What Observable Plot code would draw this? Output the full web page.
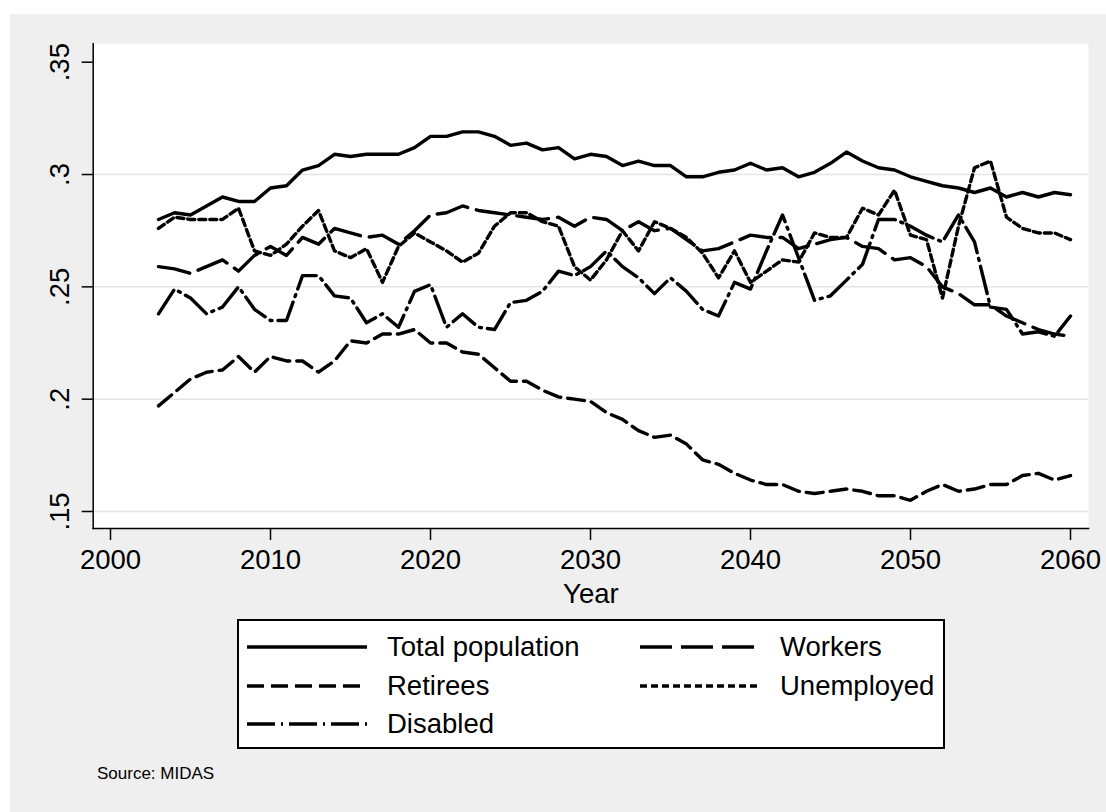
<!DOCTYPE html>
<html>
<head>
<meta charset="utf-8">
<script src="https://cdn.jsdelivr.net/npm/d3@7"></script>
<script src="https://cdn.jsdelivr.net/npm/@observablehq/plot@0.6"></script>
<style>
  body { margin: 0; background: #fff; font-family: "Liberation Sans", Arial, sans-serif; }
  #graph { position: absolute; left: 10px; top: 14px; width: 1096px; height: 798px; background: #efefef; overflow: hidden; }
  #chart { position: absolute; left: 0; top: 0; }
  #legend { position: absolute; left: 227px; top: 605px; width: 704px; height: 126px; background: #fff; border: 2px solid #000; }
  .item { position: absolute; height: 32px; display: flex; align-items: center; font-size: 27.5px; color: #000; white-space: nowrap; }
  .item svg { margin-right: 20px; }
  #note { position: absolute; left: 87px; top: 750px; font-size: 17px; color: #000; }
</style>
</head>
<body>
<div id="graph">
  <div id="chart"></div>
  <div id="legend"></div>
  <div id="note">Source: MIDAS</div>
</div>
<script>
// values, one per year 2003-2060
const years = [2003, 2004, 2005, 2006, 2007, 2008, 2009, 2010, 2011, 2012,
  2013, 2014, 2015, 2016, 2017, 2018, 2019, 2020, 2021, 2022,
  2023, 2024, 2025, 2026, 2027, 2028, 2029, 2030, 2031, 2032,
  2033, 2034, 2035, 2036, 2037, 2038, 2039, 2040, 2041, 2042,
  2043, 2044, 2045, 2046, 2047, 2048, 2049, 2050, 2051, 2052,
  2053, 2054, 2055, 2056, 2057, 2058, 2059, 2060]

const total = [.280, .283, .282, .286, .290, .288, .288, .294, .295, .302,
  .304, .309, .308, .309, .309, .309, .312, .317, .317, .319,
  .319, .317, .313, .314, .311, .312, .307, .309, .308, .304,
  .306, .304, .304, .299, .299, .301, .302, .305, .302, .303,
  .299, .301, .305, .310, .306, .303, .302, .299, .297, .295,
  .294, .292, .294, .290, .292, .290, .292, .291]

const workers = [.259, .258, .256, .259, .262, .257, .264, .268, .264, .272,
  .269, .276, .274, .272, .273, .269, .275, .282, .283, .286,
  .284, .283, .282, .281, .280, .281, .277, .281, .280, .275,
  .279, .275, .276, .271, .266, .267, .270, .273, .272, .272,
  .267, .269, .271, .272, .268, .267, .262, .263, .259, .250,
  .247, .242, .242, .237, .234, .231, .229, .228]

const retirees = [.197, .203, .209, .212, .213, .219, .212, .219, .217, .217,
  .212, .217, .226, .225, .229, .229, .231, .225, .225, .221,
  .220, .214, .208, .208, .204, .201, .200, .199, .194, .191,
  .186, .183, .184, .180, .173, .171, .167, .164, .162, .162,
  .159, .158, .159, .160, .159, .157, .157, .155, .159, .162,
  .159, .160, .162, .162, .166, .167, .164, .166]

const unemployed = [.276, .281, .280, .280, .280, .285, .266, .264, .269, .277,
  .284, .266, .263, .267, .252, .268, .274, .270, .266, .261,
  .265, .277, .283, .283, .279, .277, .259, .253, .262, .275,
  .266, .279, .276, .272, .265, .254, .266, .252, .257, .262,
  .261, .274, .272, .272, .285, .282, .293, .273, .271, .245,
  .277, .303, .306, .281, .276, .274, .274, .271]

const disabled = [.238, .249, .245, .238, .241, .250, .240, .235, .235, .255,
  .255, .246, .245, .234, .238, .232, .248, .251, .232, .238,
  .232, .231, .243, .244, .248, .257, .255, .259, .266, .259,
  .254, .247, .254, .248, .240, .237, .252, .249, .266, .282,
  .263, .244, .246, .253, .260, .280, .280, .277, .273, .270,
  .282, .270, .241, .240, .229, .230, .228, .237]

const xTicks = [2000, 2010, 2020, 2030, 2040, 2050, 2060]
const yTicks = [.15, .2, .25, .3, .35]

const series = [
  {name: "Total population", values: total, dash: null},
  {name: "Workers", values: workers, dash: "32,9"},
  {name: "Retirees", values: retirees, dash: "17,7"},
  {name: "Unemployed", values: unemployed, dash: "7,4"},
  {name: "Disabled", values: disabled, dash: "28,6,2,6"}
]

const rows = (vals) => years.map((year, i) => ({year: year, value: vals[i]}))

let chart = Plot.plot({
  width: 1096,
  height: 600,
  marginLeft: 82.7,
  marginRight: 18,
  marginTop: 29.3,
  marginBottom: 86,
  style: {
    background: "transparent",
    color: "black",
    fontFamily: "'Liberation Sans', Arial, sans-serif",
    fontSize: "27.5px",
  },
  x: {domain: [2000, 2060], insetLeft: 17.3, insetRight: 18},
  y: {domain: [.15, .35], insetTop: 18.4, insetBottom: 17},
  marks: [
    Plot.frame({fill: "white", stroke: null}),
    Plot.gridY(yTicks.slice(0, 4), {stroke: "#e4e4e4", strokeOpacity: 1, strokeWidth: 1.5}),
    ...series.map(s => Plot.line(rows(s.values), {
      x: "year", y: "value",
      stroke: "black", strokeWidth: 3.4,
      strokeDasharray: s.dash,
      strokeLinejoin: "round"
    })),
    Plot.frame({anchor: "left", stroke: "black", strokeWidth: 1.5}),
    Plot.frame({anchor: "bottom", stroke: "black", strokeWidth: 1.5}),
    Plot.axisX({
      ticks: xTicks, tickSize: 12, tickPadding: 9, strokeWidth: 1.5,
      tickFormat: d => String(d),
      label: "Year", labelAnchor: "center", labelArrow: false, labelOffset: 74
    }),
    // tick marks and rotated labels of the y axis drawn separately
    Plot.axisY({
      ticks: yTicks, tickSize: 11, strokeWidth: 1.5,
      tickFormat: () => "", label: null
    }),
    Plot.axisY({
      ticks: yTicks, tickSize: 0, tickPadding: 33,
      tickFormat: d => String(d).replace(/^0/, ""),
      rotate: -90, textAnchor: "middle", label: null
    })
  ]
})
d3.select("#chart").append(() => chart)

// legend: two columns, entries in Stata order
const slots = [[8, 10], [401, 10], [8, 49], [401, 49], [8, 87]]
const legend = d3.select("#legend")
series.forEach((s, i) => {
  let item = legend.append("div").attr("class", "item")
    .style("left", slots[i][0] + "px").style("top", slots[i][1] + "px")
  let svg = item.append("svg").attr("width", 120).attr("height", 10)
  svg.append("line").attr("x1", 0).attr("x2", 120).attr("y1", 5).attr("y2", 5)
    .attr("stroke", "black").attr("stroke-width", 3.6)
    .attr("stroke-dasharray", s.dash)
  item.append("span").text(s.name)
})
</script>
</body>
</html>
